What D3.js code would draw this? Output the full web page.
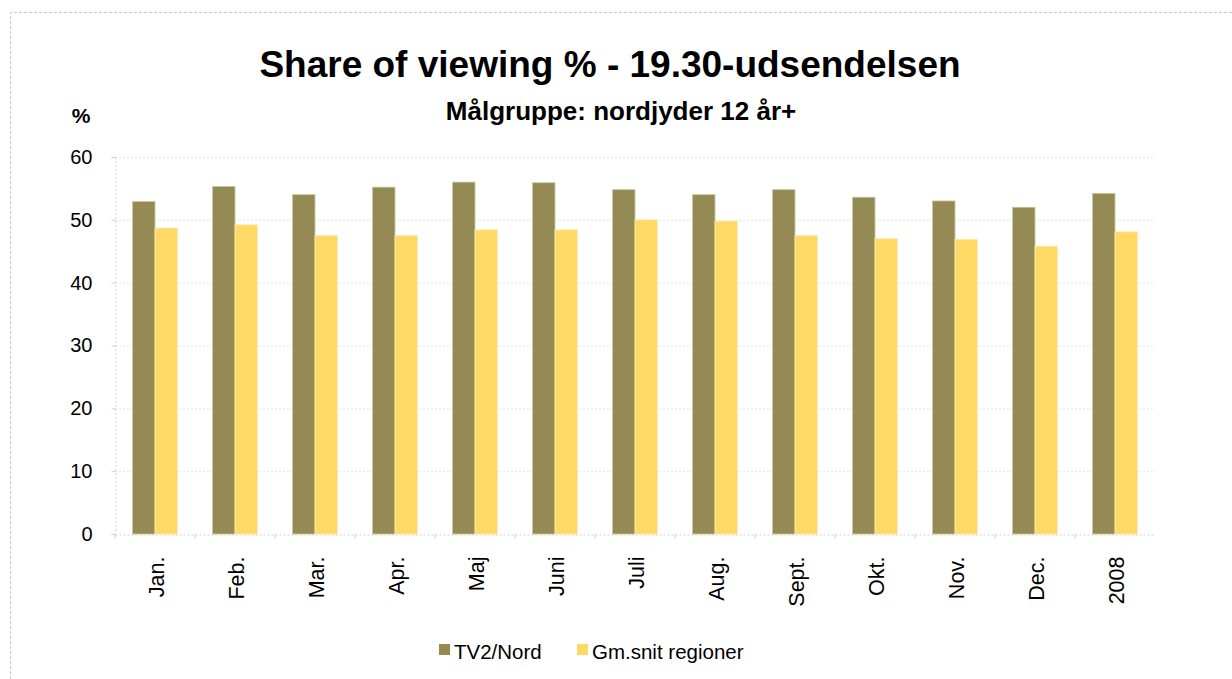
<!DOCTYPE html>
<html>
<head>
<meta charset="utf-8">
<script src="https://cdn.jsdelivr.net/npm/d3@7"></script>
<style>
  body { margin: 0; background: #fff; }
  svg { display: block; font-family: "Liberation Sans", Arial, sans-serif; }
</style>
</head>
<body>
<svg id="chart" width="1232" height="679"></svg>
<script>
// data
const categories = ['Jan.', 'Feb.', 'Mar.', 'Apr.', 'Maj', 'Juni', 'Juli', 'Aug.', 'Sept.', 'Okt.', 'Nov.', 'Dec.', '2008'];
const tv2Nord = [52.9, 55.3, 54.0, 55.2, 56.0, 55.9, 54.8, 54.0, 54.8, 53.6, 53.0, 52.0, 54.2];
const gmSnit = [48.7, 49.2, 47.5, 47.5, 48.4, 48.4, 50.0, 49.8, 47.5, 47.0, 46.9, 45.8, 48.1];
const seriesNames = ['TV2/Nord', 'Gm.snit regioner'];
const yTicks = [0, 10, 20, 30, 40, 50, 60];

const colors = ['#948a54', '#ffd966'];
const margin = {top: 157, right: 77, bottom: 145, left: 115};
const width = 1232, height = 679;

const svg = d3.select('#chart');

// outer dashed frame
svg.append('path')
  .attr('d', `M10.5,${height} V12.5 H${width}`)
  .attr('fill', 'none').attr('stroke', '#c8c8c8')
  .attr('stroke-dasharray', '3,2');

const x = d3.scaleBand().domain(categories)
  .range([margin.left, width - margin.right]).paddingInner(0).paddingOuter(0);
const y = d3.scaleLinear().domain([0, 60]).range([height - margin.bottom, margin.top]);

const groupW = x.bandwidth() * 0.56;
const xs = d3.scaleBand().domain([0, 1]).range([0, groupW]);

// gridlines
svg.append('g').attr('class', 'grid')
  .selectAll('line').data(yTicks.filter(d => d > 0)).join('line')
  .attr('x1', margin.left).attr('x2', width - margin.right)
  .attr('y1', d => y(d) + 0.5).attr('y2', d => y(d) + 0.5)
  .attr('stroke', '#e4e4e4').attr('stroke-dasharray', '2,2');

// y axis
const yAxis = svg.append('g').attr('transform', `translate(${margin.left + 0.5},0)`)
  .call(d3.axisLeft(y).tickValues(yTicks).tickSize(4).tickPadding(19));
yAxis.select('.domain').attr('stroke', '#d0d0d0').attr('stroke-dasharray', '2,2');
yAxis.selectAll('.tick line').attr('stroke', '#d0d0d0');
yAxis.selectAll('text').style('font-size', '20px').attr('fill', '#000');

// x axis
const xAxis = svg.append('g').attr('transform', `translate(0,${height - margin.bottom + 0.5})`)
  .call(d3.axisBottom(x).tickSize(0).tickPadding(0));
xAxis.select('.domain').attr('stroke', '#d0d0d0').attr('stroke-dasharray', '2,2');
xAxis.selectAll('.tick').append('line')
  .attr('x1', -x.bandwidth() / 2).attr('x2', -x.bandwidth() / 2)
  .attr('y1', 0).attr('y2', 4).attr('stroke', '#d0d0d0');
xAxis.selectAll('text')
  .style('font-size', '21.5px').attr('fill', '#000')
  .attr('text-anchor', 'end')
  .attr('transform', 'rotate(-90)')
  .attr('x', -22).attr('y', 1).attr('dy', '0.35em');

// bars
const rows = categories.map((c, i) => ({cat: c, vals: [tv2Nord[i], gmSnit[i]]}));
const groups = svg.append('g').selectAll('g.cat').data(rows).join('g')
  .attr('class', 'cat')
  .attr('transform', d => `translate(${x(d.cat) + (x.bandwidth() - groupW) / 2},0)`);
groups.selectAll('rect').data(d => d.vals.map((v, k) => ({v, k}))).join('rect')
  .attr('x', d => xs(d.k))
  .attr('width', xs.bandwidth())
  .attr('y', d => y(d.v))
  .attr('height', d => y(0) - y(d.v))
  .attr('fill', d => colors[d.k])
  .attr('stroke', d => d.k === 0 ? '#c9c29f' : '#ffeaa8')
  .attr('stroke-width', 0.8);

// titles
svg.append('text').attr('x', 610).attr('y', 77).attr('text-anchor', 'middle')
  .style('font-size', '37px').style('font-weight', 'bold')
  .text('Share of viewing % - 19.30-udsendelsen');
svg.append('text').attr('x', 621).attr('y', 120).attr('text-anchor', 'middle')
  .style('font-size', '26px').style('font-weight', 'bold')
  .text('Målgruppe: nordjyder 12 år+');
svg.append('text').attr('x', 81).attr('y', 123).attr('text-anchor', 'middle')
  .style('font-size', '21px').style('font-weight', 'bold')
  .text('%');

// legend
const legendX = [439, 577];
const legend = svg.append('g').selectAll('g').data(seriesNames).join('g')
  .attr('transform', (d, i) => `translate(${legendX[i]},659)`);
legend.append('rect').attr('x', 0).attr('y', -15).attr('width', 11).attr('height', 11)
  .attr('fill', (d, i) => colors[i]);
legend.append('text').attr('x', 15).attr('y', 0)
  .style('font-size', '20.5px').text(d => d);
</script>
</body>
</html>
